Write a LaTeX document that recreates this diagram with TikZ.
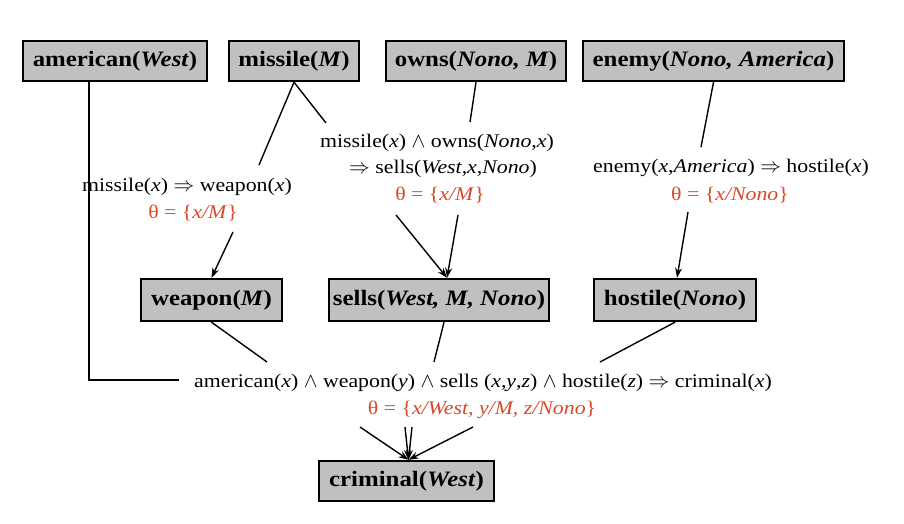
\documentclass[tikz,border=0pt]{standalone}
\usepackage{fontspec}
\setmainfont[FakeStretch=1.13]{Liberation Serif}
\usetikzlibrary{arrows.meta}
\definecolor{boxgray}{RGB}{192,192,192}
\definecolor{subred}{RGB}{218,72,40}
\begin{document}
\begin{tikzpicture}[x=1pt,y=-1pt,
 fact/.style={draw=black, line width=2.4pt, fill=boxgray, font=\fontsize{22}{24}\selectfont\bfseries, minimum height=40pt, inner sep=0pt},
 rule/.style={font=\fontsize{19.3}{22}\selectfont, inner sep=0pt},
 subst/.style={font=\fontsize{19.3}{22}\selectfont, text=subred, inner sep=0pt},
 link/.style={line width=1.4pt},
 arr/.style={link, -{Stealth[length=10pt,width=7pt]}}]
\useasboundingbox (0,0) rectangle (904,523);
% facts
\node[fact, minimum width=184pt] (am) at (115,61) {american(\textit{West})};
\node[fact, minimum width=130pt] (mi) at (294,61) {missile(\textit{M})};
\node[fact, minimum width=180pt] (ow) at (476,61) {owns(\textit{Nono, M})};
\node[fact, minimum width=261pt] (en) at (713.5,61) {enemy(\textit{Nono, America})};
\node[fact, minimum width=141pt, minimum height=42pt] (we) at (211.5,300) {weapon(\textit{M})};
\node[fact, minimum width=220pt, minimum height=42pt] (se) at (439,300) {sells(\textit{West, M, Nono})};
\node[fact, minimum width=162pt, minimum height=42pt] (ho) at (675,300) {hostile(\textit{Nono})};
\node[fact, minimum width=175pt] (cr) at (406.5,481) {criminal(\textit{West})};
% rules
\node[rule] (r1) at (187,187) {missile(\textit{x}) $\Rightarrow$ weapon(\textit{x})};
\node[subst] (s1) at (193,213) {θ = \{\textit{x/M}\}};
\node[rule] (r2a) at (437,143) {missile(\textit{x}) $\wedge$ owns(\textit{Nono},\textit{x})};
\node[rule] (r2b) at (443,169) {$\Rightarrow$ sells(\textit{West},\textit{x},\textit{Nono})};
\node[subst] (s2) at (440,195) {θ = \{\textit{x/M}\}};
\node[rule] (r3) at (731,168) {enemy(\textit{x},\textit{America}) $\Rightarrow$ hostile(\textit{x})};
\node[subst] (s3) at (730,195) {θ = \{\textit{x/Nono}\}};
\node[rule] (r4) at (483,383) {american(\textit{x}) $\wedge$ weapon(\textit{y}) $\wedge$ sells (\textit{x},\textit{y},\textit{z}) $\wedge$ hostile(\textit{z}) $\Rightarrow$ criminal(\textit{x})};
\node[subst] (s4) at (482,410) {θ = \{\textit{x/West, y/M, z/Nono}\}};
% free ends
\coordinate (amfoot) at (89,380);
\coordinate (amend) at (179,380);
\coordinate (mi1) at (259,165);
\coordinate (mi2) at (326,123);
\coordinate (ow1) at (470,122);
\coordinate (en1) at (701,147);
\coordinate (wa) at (233,232);
\coordinate (sa) at (396,215);
\coordinate (sb) at (458,215);
\coordinate (ha) at (688,212);
\coordinate (wb) at (267,362);
\coordinate (sc) at (434,362);
\coordinate (hb) at (600,362);
\coordinate (c1) at (360,427);
\coordinate (c2) at (405,427);
\coordinate (c3) at (412,427);
\coordinate (c4) at (473,427);
% connectors
\draw[link] (am.south -| amfoot) -- (amfoot) -- (amend);
\draw[link] (mi.south) -- (mi1);
\draw[link] (mi.south) -- (mi2);
\draw[link] (ow.south -| 476,0) -- (ow1);
\draw[link] (en.south) -- (en1);
\draw[arr] (wa) -- (we.north);
\draw[arr] (sa) -- ([xshift=8pt]se.north);
\draw[arr] (sb) -- ([xshift=8pt]se.north);
\draw[arr] (ha) -- ([xshift=2pt]ho.north);
\draw[link] (we.south) -- (wb);
\draw[link] ([xshift=5pt]se.south) -- (sc);
\draw[link] (ho.south) -- (hb);
\draw[arr] (c1) -- ([xshift=2pt]cr.north);
\draw[arr] (c2) -- ([xshift=2pt]cr.north);
\draw[arr] (c3) -- ([xshift=2pt]cr.north);
\draw[arr] (c4) -- ([xshift=2pt]cr.north);
\end{tikzpicture}
\end{document}
